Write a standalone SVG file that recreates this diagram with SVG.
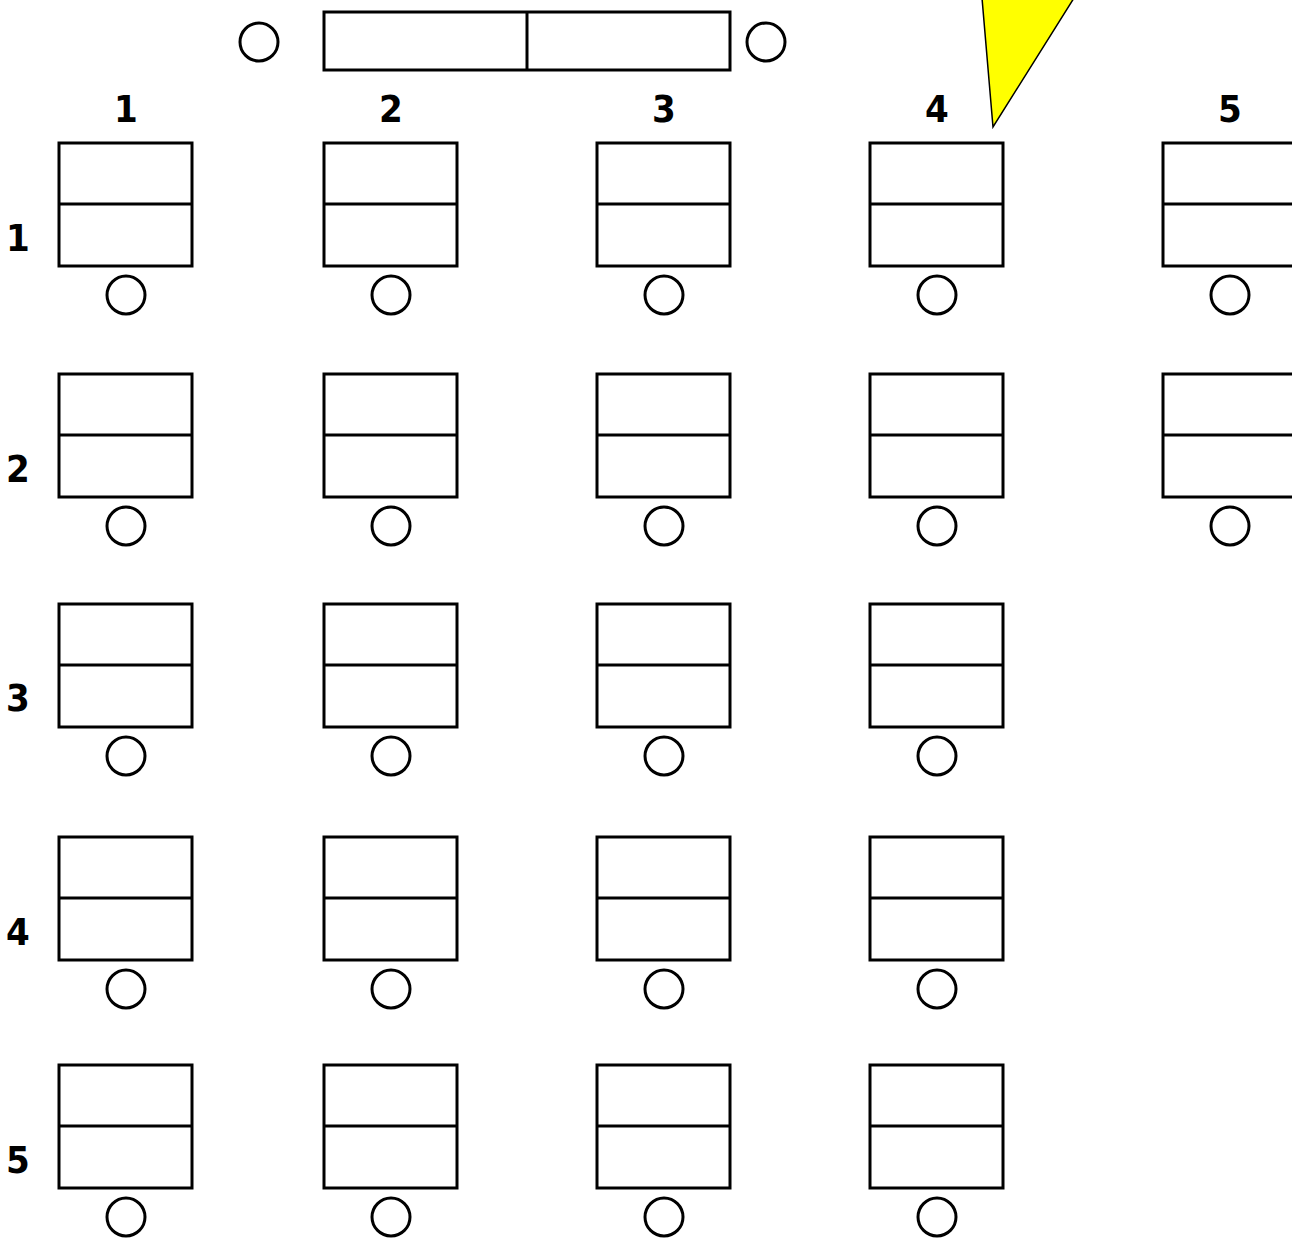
<svg xmlns="http://www.w3.org/2000/svg" width="1292" height="1240" viewBox="0 0 1292 1240">
<style>
.d{fill:#fff;stroke:#000;stroke-width:3}
.l{stroke:#000;stroke-width:3}
.c{fill:none;stroke:#000;stroke-width:3}
.t{font-family:"DejaVu Sans Condensed","Liberation Sans",sans-serif;font-weight:bold;font-size:38px;text-anchor:middle;fill:#000}
</style>
<defs>
<g id="desk">
<rect class="d" x="0" y="0" width="133" height="123"/>
<line class="l" x1="0" y1="61" x2="133" y2="61"/>
<circle class="c" cx="67" cy="152" r="19"/>
</g>
</defs>
<rect width="1292" height="1240" fill="#fff"/>
<g id="front">
<rect class="d" x="324" y="12" width="406" height="58"/>
<line class="l" x1="527" y1="12" x2="527" y2="70"/>
<circle class="c" cx="259" cy="42" r="19"/>
<circle class="c" cx="766" cy="42" r="19"/>
</g>
<polygon id="marker" points="982,-2 1074,-2 993,127" fill="#ff0" stroke="#000" stroke-width="1.5"/>
<g id="col-labels">
<text class="t" x="126" y="122">1</text>
<text class="t" x="391" y="122">2</text>
<text class="t" x="664" y="122">3</text>
<text class="t" x="937" y="122">4</text>
<text class="t" x="1230" y="122">5</text>
</g>
<g id="row-labels">
<text class="t" x="18" y="251">1</text>
<text class="t" x="18" y="482">2</text>
<text class="t" x="18" y="711">3</text>
<text class="t" x="18" y="945">4</text>
<text class="t" x="18" y="1173">5</text>
</g>
<g id="r1c1"><use href="#desk" x="59" y="143"/></g>
<g id="r1c2"><use href="#desk" x="324" y="143"/></g>
<g id="r1c3"><use href="#desk" x="597" y="143"/></g>
<g id="r1c4"><use href="#desk" x="870" y="143"/></g>
<g id="r1c5"><use href="#desk" x="1163" y="143"/></g>
<g id="r2c1"><use href="#desk" x="59" y="374"/></g>
<g id="r2c2"><use href="#desk" x="324" y="374"/></g>
<g id="r2c3"><use href="#desk" x="597" y="374"/></g>
<g id="r2c4"><use href="#desk" x="870" y="374"/></g>
<g id="r2c5"><use href="#desk" x="1163" y="374"/></g>
<g id="r3c1"><use href="#desk" x="59" y="604"/></g>
<g id="r3c2"><use href="#desk" x="324" y="604"/></g>
<g id="r3c3"><use href="#desk" x="597" y="604"/></g>
<g id="r3c4"><use href="#desk" x="870" y="604"/></g>
<g id="r4c1"><use href="#desk" x="59" y="837"/></g>
<g id="r4c2"><use href="#desk" x="324" y="837"/></g>
<g id="r4c3"><use href="#desk" x="597" y="837"/></g>
<g id="r4c4"><use href="#desk" x="870" y="837"/></g>
<g id="r5c1"><use href="#desk" x="59" y="1065"/></g>
<g id="r5c2"><use href="#desk" x="324" y="1065"/></g>
<g id="r5c3"><use href="#desk" x="597" y="1065"/></g>
<g id="r5c4"><use href="#desk" x="870" y="1065"/></g>
<g id="connectors"></g>
</svg>
